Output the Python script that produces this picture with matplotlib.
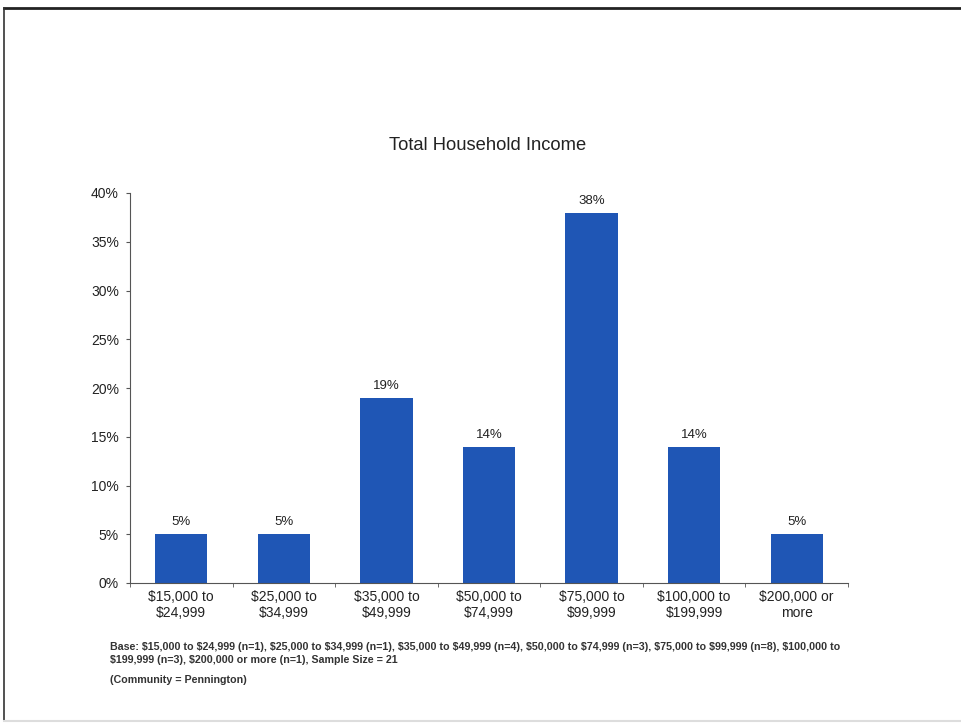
import matplotlib.pyplot as plt
from matplotlib.lines import Line2D

plt.rcParams["font.family"] = ["Liberation Sans", "DejaVu Sans"]

# 데이터
categories = [
    "$15,000 to\n$24,999",
    "$25,000 to\n$34,999",
    "$35,000 to\n$49,999",
    "$50,000 to\n$74,999",
    "$75,000 to\n$99,999",
    "$100,000 to\n$199,999",
    "$200,000 or\nmore",
]
percents = [5, 5, 19, 14, 38, 14, 5]
yticks = [0, 5, 10, 15, 20, 25, 30, 35, 40]

base_note = (
    "Base: \\$15,000 to \\$24,999 (n=1), \\$25,000 to \\$34,999 (n=1), \\$35,000 to \\$49,999 (n=4), "
    "\\$50,000 to \\$74,999 (n=3), \\$75,000 to \\$99,999 (n=8), \\$100,000 to\n"
    "\\$199,999 (n=3), \\$200,000 or more (n=1), Sample Size = 21"
)
community_note = "(Community = Pennington)"

fig = plt.figure(figsize=(9.61, 7.25), dpi=100)
ax = fig.add_axes([130 / 961, 1 - 583 / 725, 718 / 961, 390 / 725])

x = list(range(len(categories)))
ax.bar(x, percents, width=0.51, color="#1f56b5", zorder=2)
for xi, p in zip(x, percents):
    ax.text(xi, p + 0.6, f"{p}%", ha="center", va="bottom", fontsize=9.5, color="#222222")

ax.set_xlim(-0.5, len(categories) - 0.5)
ax.set_ylim(0, 40)
ax.set_yticks(yticks)
ax.set_yticklabels([f"{t}%" for t in yticks], fontsize=10, color="#222222")
ax.set_xticks(x)
ax.set_xticklabels(categories, fontsize=10, color="#222222", linespacing=1.15)
ax.tick_params(axis="x", length=0, pad=5)
ax.tick_params(axis="y", length=3, direction="out", pad=5, color="#555555")
# 카테고리 사이 눈금
ax.set_xticks([i - 0.5 for i in range(len(categories) + 1)], minor=True)
ax.tick_params(axis="x", which="minor", length=3, direction="out", color="#555555")

for side in ["top", "right"]:
    ax.spines[side].set_visible(False)
ax.spines["left"].set_color("#555555")
ax.spines["bottom"].set_color("#555555")

fig.text(488 / 961, 1 - 145 / 725, "Total Household Income", ha="center", va="center",
         fontsize=13.2, color="#222222")

fig.text(110 / 961, 1 - 642 / 725, base_note, ha="left", va="top", fontsize=7.7,
         fontweight="bold", color="#333333", linespacing=1.35)
fig.text(110 / 961, 1 - 680 / 725, community_note, ha="left", va="center", fontsize=7.7,
         fontweight="bold", color="#333333")

# 테두리
fig.add_artist(Line2D([4 / 961, 1], [1 - 8 / 725, 1 - 8 / 725], color="#222222", lw=2))
fig.add_artist(Line2D([4 / 961, 4 / 961], [1 - 8 / 725, 1 - 721 / 725], color="#333333", lw=1.2))
fig.add_artist(Line2D([4 / 961, 1], [1 - 721 / 725, 1 - 721 / 725], color="#dddddd", lw=1.5))

fig.savefig("out.png", dpi=100)
